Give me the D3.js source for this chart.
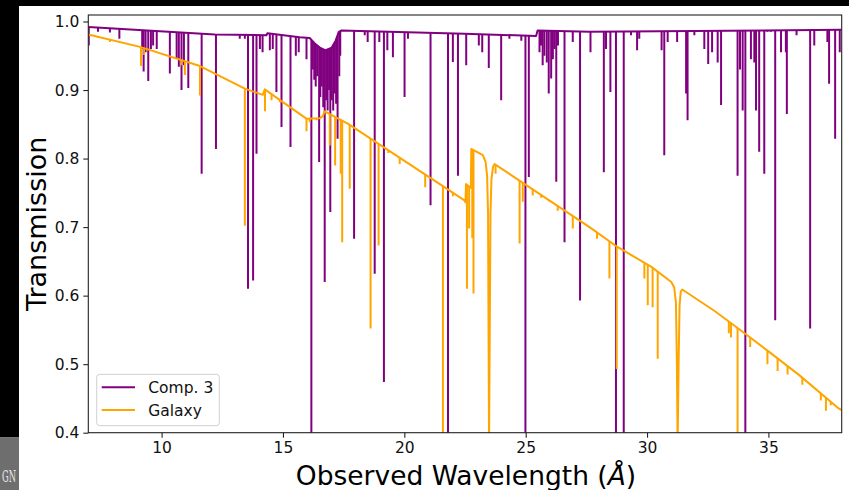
<!DOCTYPE html>
<html><head><meta charset="utf-8">
<script src="https://cdn.jsdelivr.net/npm/d3@7"></script>
<style>body{margin:0;background:#fff}svg{display:block}</style>
</head><body><svg id="c" width="849" height="490"></svg>
<script>
// ---- data (wavelength in Å, transmission) ----
const xTicks = [10, 15, 20, 25, 30, 35];
const yTicks = [0.4, 0.5, 0.6, 0.7, 0.8, 0.9, 1.0];
const seriesNames = ["Comp. 3", "Galaxy"];

// Comp. 3 continuum level
const comp3Continuum = [[6.98,0.992],[12.19,0.981],[14.32,0.980],[14.36,0.983],[15.69,0.977],[16.10,0.976],[16.31,0.968],[16.52,0.962],[16.76,0.958],[17.01,0.962],[17.17,0.972],[17.30,0.985],[17.41,0.987],[22.48,0.982],[25.43,0.979],[25.49,0.987],[27.63,0.985],[31.95,0.986],[38.02,0.988]];
// Comp. 3 absorption lines: [wavelength, minimum transmission]
const comp3Lines = [[7.00,0.965],[7.38,0.985],[7.87,0.984],[8.26,0.975],[9.20,0.96],[9.26,0.927],[9.34,0.955],[9.45,0.913],[9.56,0.96],[9.65,0.965],[9.80,0.96],[10.34,0.924],[10.62,0.946],[10.71,0.934],[10.82,0.90],[10.92,0.936],[11.10,0.903],[11.65,0.778],[12.24,0.814],[13.22,0.975],[13.43,0.975],[13.56,0.61],[13.77,0.622],[13.91,0.807],[14.05,0.96],[14.16,0.955],[14.46,0.958],[14.58,0.96],[14.73,0.897],[14.94,0.846],[15.31,0.817],[15.53,0.95],[15.65,0.955],[15.97,0.945],[16.17,0.38],[16.23,0.93],[16.29,0.915],[16.35,0.905],[16.41,0.92],[16.49,0.795],[16.54,0.89],[16.60,0.905],[16.66,0.875],[16.72,0.62],[16.78,0.885],[16.84,0.87],[16.90,0.90],[16.95,0.722],[17.01,0.885],[17.07,0.87],[17.13,0.895],[17.19,0.88],[17.25,0.829],[17.32,0.92],[17.36,0.95],[17.93,0.683],[18.16,0.985],[18.37,0.98],[18.49,0.97],[18.78,0.632],[18.97,0.97],[19.16,0.474],[19.30,0.958],[19.53,0.948],[20.01,0.89],[20.15,0.975],[21.08,0.732],[21.80,0.38],[22.00,0.941],[22.21,0.775],[22.55,0.936],[23.07,0.965],[23.21,0.955],[23.48,0.932],[23.99,0.885],[24.33,0.975],[24.82,0.972],[24.99,0.38],[25.13,0.773],[25.57,0.955],[25.63,0.965],[25.70,0.936],[25.77,0.95],[25.87,0.94],[25.95,0.895],[26.05,0.917],[26.12,0.945],[26.19,0.96],[26.26,0.766],[26.33,0.965],[26.60,0.678],[26.94,0.97],[27.24,0.593],[27.67,0.955],[28.22,0.78],[28.31,0.96],[28.49,0.897],[28.72,0.38],[29.04,0.38],[29.20,0.985],[29.34,0.98],[29.59,0.958],[29.68,0.975],[30.60,0.958],[30.71,0.805],[30.85,0.97],[31.24,0.97],[31.61,0.895],[31.67,0.856],[31.95,0.98],[32.36,0.96],[32.52,0.938],[32.68,0.955],[32.91,0.94],[33.05,0.878],[33.73,0.775],[33.83,0.93],[33.94,0.87],[34.05,0.38],[34.28,0.945],[34.42,0.94],[34.49,0.87],[34.62,0.81],[34.83,0.778],[34.96,0.985],[35.10,0.985],[35.28,0.564],[35.52,0.955],[35.72,0.955],[35.76,0.865],[36.16,0.98],[36.72,0.552],[36.89,0.965],[37.43,0.97],[37.50,0.909],[37.75,0.829],[37.94,0.955]];

// Galaxy continuum level (includes edges and broad lines)
const galaxyContinuum = [[6.98,0.981],[9.11,0.963],[11.58,0.935],[13.43,0.902],[14.17,0.893],[14.25,0.901],[15.98,0.858],[16.52,0.859],[16.64,0.862],[16.72,0.869],[17.67,0.851],[22.48,0.739],[22.52,0.736],[22.54,0.763],[22.74,0.757],[22.76,0.814],[23.235,0.805],[23.35,0.795],[23.41,0.775],[23.45,0.72],[23.47,0.55],[23.49,0.38],[23.52,0.55],[23.55,0.72],[23.59,0.77],[23.655,0.788],[23.72,0.792],[27.63,0.700],[28.78,0.671],[30.18,0.642],[31.0,0.620],[31.12,0.612],[31.19,0.59],[31.23,0.5],[31.26,0.38],[31.30,0.5],[31.34,0.585],[31.39,0.606],[31.45,0.609],[32.77,0.578],[33.80,0.551],[35.03,0.518],[36.27,0.484],[37.91,0.435],[38.02,0.433]];
// Galaxy absorption lines: [wavelength, minimum transmission]
const galaxyLines = [[7.38,0.976],[7.87,0.97],[9.15,0.935],[9.28,0.951],[10.82,0.936],[10.96,0.922],[11.58,0.892],[13.43,0.702],[14.26,0.869],[14.53,0.885],[14.87,0.882],[15.28,0.878],[15.62,0.868],[15.97,0.840],[16.10,0.853],[16.38,0.856],[16.93,0.819],[17.15,0.79],[17.38,0.778],[17.44,0.678],[17.75,0.756],[18.61,0.552],[18.94,0.673],[19.34,0.808],[19.81,0.792],[20.86,0.758],[21.59,0.38],[22.00,0.745],[22.58,0.61],[22.67,0.698],[22.80,0.684],[22.85,0.603],[23.76,0.778],[24.75,0.676],[24.88,0.737],[25.29,0.746],[25.64,0.743],[25.98,0.737],[26.32,0.724],[26.94,0.698],[27.94,0.683],[28.45,0.625],[28.75,0.493],[29.89,0.625],[30.03,0.586],[30.23,0.583],[30.44,0.508],[33.37,0.545],[33.46,0.539],[33.73,0.38],[34.25,0.525],[34.96,0.50],[35.38,0.49],[35.79,0.485],[36.40,0.47],[37.16,0.447],[37.37,0.432],[37.57,0.44]];

const colors = ["#800080", "#ffa500"];

// ---- layout ----
const svg = d3.select("#c");
const L = 88.3, R = 841.7, T = 15, B = 432.7;
const x = d3.scaleLinear().domain([6.98, 38.02]).range([L, R]);
const y = d3.scaleLinear().domain([0.4, 1.0]).range([B, 21.5]);

svg.append("rect").attr("width",849).attr("height",490).attr("fill","#fff");
// frame decoration from screenshot
svg.append("rect").attr("x",0).attr("y",0).attr("width",849).attr("height",6).attr("fill","#000");
svg.append("rect").attr("x",0).attr("y",0).attr("width",19).attr("height",437.5).attr("fill","#000");
svg.append("rect").attr("x",0).attr("y",437.5).attr("width",19).attr("height",53).attr("fill","#6e6e6e");
svg.append("text").attr("x",2).attr("y",482).attr("font-family","DejaVu Serif")
  .attr("font-size",17).attr("fill","#e6e6e6").attr("textLength",14).attr("lengthAdjust","spacingAndGlyphs").text("GN");
const defs = svg.append("defs");
defs.append("clipPath").attr("id","plot").append("rect").attr("x",L).attr("y",T).attr("width",R-L).attr("height",B-T);

const line = d3.line().x(d=>x(d[0])).y(d=>y(d[1]));
const area = d3.area().x(d=>x(d[0])).y0(B+60).y1(d=>y(d[1]));

const plot = svg.append("g").attr("clip-path","url(#plot)");
[[comp3Continuum, comp3Lines], [galaxyContinuum, galaxyLines]].forEach(([cont, lines], i) => {
  const id = "under" + i;
  defs.append("clipPath").attr("id", id).append("path").attr("d", area(cont));
  const g = plot.append("g");
  g.append("g").attr("clip-path", `url(#${id})`).selectAll("line").data(lines).join("line")
    .attr("x1", d=>x(d[0])).attr("x2", d=>x(d[0]))
    .attr("y1", d=>y(d[1])).attr("y2", y(1.05))
    .attr("stroke", colors[i]).attr("stroke-width", 2);
  g.append("path").attr("d", line(cont)).attr("fill","none")
    .attr("stroke", colors[i]).attr("stroke-width", 2).attr("stroke-linejoin","round");
});

// axes
const font = "DejaVu Sans";
const xa = svg.append("g").attr("transform",`translate(0,${B})`)
  .call(d3.axisBottom(x).tickValues(xTicks).tickFormat(d3.format("d")).tickSizeOuter(0).tickSize(5).tickPadding(4));
const ya = svg.append("g").attr("transform",`translate(${L},0)`)
  .call(d3.axisLeft(y).tickValues(yTicks).tickFormat(d3.format(".1f")).tickSizeOuter(0).tickSize(5).tickPadding(4));
[xa, ya].forEach(a => {
  a.select(".domain").remove();
  a.selectAll("line").attr("stroke","#222").attr("stroke-width",1.1);
  a.selectAll("text").attr("font-family",font).attr("font-size",15.5).attr("fill","#111");
});
svg.append("rect").attr("x",L).attr("y",T).attr("width",R-L).attr("height",B-T)
  .attr("fill","none").attr("stroke","#222").attr("stroke-width",1.1);

svg.append("text").attr("x",(L+R)/2 + 1).attr("y",485).attr("text-anchor","middle")
  .attr("font-family",font).attr("font-size",26.5).attr("fill","#000")
  .call(t => { t.append("tspan").text("Observed Wavelength ("); t.append("tspan").attr("font-style","italic").text("Å"); t.append("tspan").text(")"); });
svg.append("text").attr("transform",`translate(46,${(T+B)/2}) rotate(-90)`).attr("text-anchor","middle")
  .attr("font-family",font).attr("font-size",27).attr("fill","#000").text("Transmission");

// legend
const lg = svg.append("g");
lg.append("rect").attr("x",96.7).attr("y",374.3).attr("width",122.6).attr("height",51.4).attr("rx",3)
  .attr("fill","#fff").attr("fill-opacity",0.85).attr("stroke","#d0d0d0").attr("stroke-width",1);
seriesNames.forEach((n,i) => {
  const yy = 387.3 + i*22.7;
  lg.append("line").attr("x1",101.7).attr("x2",135).attr("y1",yy).attr("y2",yy).attr("stroke",colors[i]).attr("stroke-width",2);
  lg.append("text").attr("x",148.3).attr("y",yy+5.7).attr("font-family",font).attr("font-size",15.5).attr("fill","#111").text(n);
});
</script></body></html>
